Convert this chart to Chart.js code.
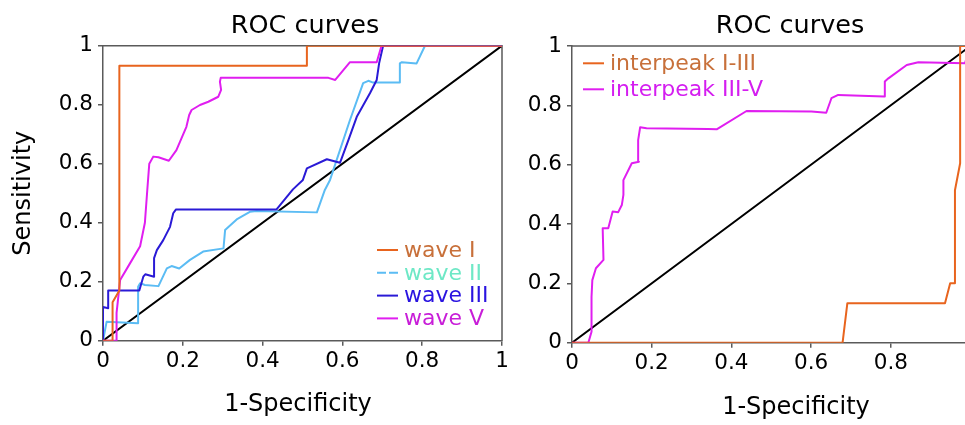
<!DOCTYPE html>
<html>
<head>
<meta charset="utf-8">
<title>ROC curves</title>
<script src="https://cdn.jsdelivr.net/npm/chart.js@4.4.1/dist/chart.umd.min.js"></script>
<style>
    html, body { margin: 0; padding: 0; background: #fff; overflow: hidden; }
    body { width: 965px; height: 425px; position: relative; }
    #leftChart { position: absolute; left: 0; top: 0; }
    #rightChart { position: absolute; left: 515px; top: 0; }
</style>
</head>
<body>
<canvas id="leftChart" width="530" height="425"></canvas>
<canvas id="rightChart" width="530" height="425"></canvas>
<script>
// ---- data ----
const tickValues = [0, 0.2, 0.4, 0.6, 0.8, 1];
const tickLabels = ["0", "0.2", "0.4", "0.6", "0.8", "1"];

const diagX = [0, 1];
const diagY = [0, 1];

// left panel
const waveIX = [0, 0.024, 0.024, 0.041, 0.041, 0.511, 0.511, 1];
const waveIY = [0, 0, 0.13, 0.17, 0.932, 0.932, 1, 1];

const waveIIX = [0, 0.009, 0.088, 0.088, 0.093, 0.105, 0.139, 0.16, 0.172, 0.191, 0.218, 0.251, 0.302, 0.306, 0.335, 0.368, 0.385, 0.536, 0.556, 0.569, 0.619, 0.652, 0.665, 0.677, 0.744, 0.744, 0.749, 0.786, 0.807, 1];
const waveIIY = [0, 0.064, 0.059, 0.183, 0.195, 0.189, 0.185, 0.245, 0.253, 0.245, 0.274, 0.302, 0.313, 0.375, 0.411, 0.437, 0.44, 0.435, 0.511, 0.545, 0.748, 0.873, 0.881, 0.875, 0.875, 0.94, 0.944, 0.94, 1, 1];

const waveIIIX = [0, 0, 0.013, 0.013, 0.091, 0.101, 0.106, 0.128, 0.128, 0.135, 0.151, 0.168, 0.176, 0.183, 0.435, 0.476, 0.501, 0.511, 0.561, 0.594, 0.615, 0.636, 0.669, 0.686, 0.692, 0.702, 1];
const waveIIIY = [0, 0.114, 0.11, 0.17, 0.17, 0.217, 0.225, 0.217, 0.28, 0.307, 0.341, 0.386, 0.432, 0.445, 0.445, 0.513, 0.545, 0.584, 0.615, 0.603, 0.68, 0.759, 0.839, 0.884, 0.94, 1, 1];

const waveVX = [0, 0.034, 0.034, 0.043, 0.068, 0.093, 0.105, 0.111, 0.116, 0.126, 0.139, 0.165, 0.184, 0.209, 0.216, 0.222, 0.243, 0.264, 0.289, 0.296, 0.293, 0.295, 0.565, 0.582, 0.619, 0.686, 0.698, 1];
const waveVY = [0, 0, 0.094, 0.206, 0.263, 0.32, 0.4, 0.511, 0.6, 0.624, 0.622, 0.61, 0.646, 0.725, 0.765, 0.782, 0.799, 0.81, 0.827, 0.85, 0.878, 0.891, 0.891, 0.884, 0.944, 0.944, 1, 1];

// right panel
const ipI_IIIX = [0, 0.679, 0.691, 0.936, 0.949, 0.961, 0.961, 0.974, 0.974, 1];
const ipI_IIIY = [0, 0, 0.133, 0.133, 0.2, 0.2, 0.514, 0.605, 1, 1];

const ipIII_VX = [0, 0.041, 0.049, 0.049, 0.051, 0.06, 0.079, 0.077, 0.091, 0.102, 0.116, 0.125, 0.129, 0.129, 0.15, 0.168, 0.166, 0.171, 0.187, 0.342, 0.363, 0.438, 0.601, 0.638, 0.651, 0.668, 0.783, 0.785, 0.794, 0.84, 0.869, 0.986, 1];
const ipIII_VY = [0, 0, 0.037, 0.155, 0.211, 0.251, 0.279, 0.386, 0.386, 0.442, 0.44, 0.464, 0.498, 0.548, 0.605, 0.61, 0.683, 0.726, 0.723, 0.72, 0.719, 0.781, 0.779, 0.775, 0.824, 0.835, 0.83, 0.88, 0.891, 0.936, 0.945, 0.942, 1];

const leftNames = ["wave I", "wave II", "wave III", "wave V"];
const rightNames = ["interpeak I-III", "interpeak III-V"];

const FONT = "'DejaVu Sans'";
const AXIS = "#5a5a5a";
const ORANGE = "#e8641e";
const LIGHTBLUE = "#5bbcf4";
const BLUE = "#2a1ad6";
const MAGENTA = "#e01ef0";

function toPoints(xs, ys) {
    return xs.map((x, i) => ({ x: x, y: ys[i] }));
}

function curve(label, xs, ys, color) {
    return {
        label: label,
        data: toPoints(xs, ys),
        borderColor: color,
        backgroundColor: color,
        borderWidth: 2,
        borderJoinStyle: 'round',
        borderCapStyle: 'round',
        showLine: true,
        pointRadius: 0,
        tension: 0
    };
}

// title and x label, drawn where the picture has them
const panelText = {
    id: 'panelText',
    afterDraw(chart, args, opts) {
        const ctx = chart.ctx;
        ctx.save();
        ctx.fillStyle = '#000';
        ctx.textAlign = 'center';
        ctx.textBaseline = 'alphabetic';
        ctx.font = `25.5px ${FONT}`;
        ctx.fillText(opts.title, opts.titleX, opts.titleY);
        ctx.font = `24px ${FONT}`;
        ctx.fillText(opts.xLabel, opts.xLabelX, opts.xLabelY);
        ctx.restore();
    }
};

// top and right edge of the box
const frame = {
    id: 'frame',
    beforeDatasetsDraw(chart) {
        const { ctx, chartArea: a } = chart;
        ctx.save();
        ctx.strokeStyle = AXIS;
        ctx.lineWidth = 1.5;
        ctx.beginPath();
        ctx.moveTo(a.left, a.top);
        ctx.lineTo(a.right, a.top);
        ctx.lineTo(a.right, a.bottom);
        ctx.stroke();
        ctx.restore();
    }
};

const lineLegend = {
    id: 'lineLegend',
    afterDraw(chart, args, opts) {
        const ctx = chart.ctx;
        ctx.save();
        ctx.font = `22px ${FONT}`;
        ctx.textBaseline = 'middle';
        ctx.textAlign = 'left';
        opts.items.forEach((it, i) => {
            const y = opts.y + i * opts.rowHeight;
            ctx.strokeStyle = it.lineColor;
            ctx.lineWidth = 2;
            ctx.setLineDash(it.dash || []);
            ctx.beginPath();
            ctx.moveTo(opts.x, y);
            ctx.lineTo(opts.x + 21, y);
            ctx.stroke();
            ctx.setLineDash([]);
            ctx.fillStyle = it.textColor;
            ctx.fillText(it.text, opts.x + 27, y + 1);
        });
        ctx.restore();
    }
};

function scales(yWidth, xHeight, yTitle) {
    const tickFont = { family: FONT, size: 21.5 };
    return {
        x: {
            type: 'linear', min: 0, max: 1,
            afterBuildTicks: s => { s.ticks = tickValues.map(v => ({ value: v })); },
            afterFit: s => { s.height = xHeight; },
            ticks: { color: '#000', font: tickFont, padding: 3, maxRotation: 0, callback: (v, i) => tickLabels[i] },
            grid: { drawOnChartArea: false, tickLength: 5, color: AXIS, lineWidth: 1.5 },
            border: { color: AXIS, width: 1.5 }
        },
        y: {
            type: 'linear', min: 0, max: 1,
            afterBuildTicks: s => { s.ticks = tickValues.map(v => ({ value: v })); },
            afterFit: s => { s.width = yWidth; },
            ticks: { color: '#000', font: tickFont, padding: 5, callback: (v, i) => tickLabels[i] },
            grid: { drawOnChartArea: false, tickLength: 5, color: AXIS, lineWidth: 1.5 },
            border: { color: AXIS, width: 1.5 },
            title: {
                display: !!yTitle, text: yTitle || '', color: '#000',
                font: { family: FONT, size: 24 }, padding: { top: 9, bottom: 0 }
            }
        }
    };
}

function drawLeft() {
    const ctx = document.getElementById('leftChart').getContext('2d');
    new Chart(ctx, {
        type: 'scatter',
        data: {
            datasets: [
                curve(leftNames[0], waveIX, waveIY, ORANGE),
                curve(leftNames[3], waveVX, waveVY, MAGENTA),
                curve(leftNames[2], waveIIIX, waveIIIY, BLUE),
                curve(leftNames[1], waveIIX, waveIIY, LIGHTBLUE),
                curve('chance', diagX, diagY, '#000')
            ]
        },
        options: {
            responsive: false,
            animation: false,
            layout: { padding: { top: 45.7, right: 28, left: 0, bottom: 0 } },
            scales: scales(103, 84.3, 'Sensitivity'),
            plugins: {
                legend: { display: false },
                tooltip: { enabled: false },
                panelText: { title: 'ROC curves', titleX: 305, titleY: 32.5, xLabel: '1-Specificity', xLabelX: 298, xLabelY: 410.5 },
                lineLegend: {
                    x: 377, y: 250, rowHeight: 22.8,
                    items: [
                        { text: leftNames[0], lineColor: ORANGE, textColor: '#c8703a' },
                        { text: leftNames[1], lineColor: LIGHTBLUE, textColor: '#6ee8c6', dash: [9, 3] },
                        { text: leftNames[2], lineColor: BLUE, textColor: '#2a14e0' },
                        { text: leftNames[3], lineColor: MAGENTA, textColor: '#c81ed8' }
                    ]
                }
            }
        },
        plugins: [frame, panelText, lineLegend]
    });
}

function drawRight() {
    const ctx = document.getElementById('rightChart').getContext('2d');
    new Chart(ctx, {
        type: 'scatter',
        data: {
            datasets: [
                curve(rightNames[0], ipI_IIIX, ipI_IIIY, ORANGE),
                curve(rightNames[1], ipIII_VX, ipIII_VY, MAGENTA),
                curve('chance', diagX, diagY, '#000')
            ]
        },
        options: {
            responsive: false,
            animation: false,
            layout: { padding: { top: 46, right: 74.5, left: 0, bottom: 0 } },
            scales: scales(57, 82.3, null),
            plugins: {
                legend: { display: false },
                tooltip: { enabled: false },
                panelText: { title: 'ROC curves', titleX: 275, titleY: 32.7, xLabel: '1-Specificity', xLabelX: 281, xLabelY: 413.5 },
                lineLegend: {
                    x: 68, y: 63.3, rowHeight: 26,
                    items: [
                        { text: rightNames[0], lineColor: ORANGE, textColor: '#c8703a' },
                        { text: rightNames[1], lineColor: MAGENTA, textColor: '#d41ef0' }
                    ]
                }
            }
        },
        plugins: [frame, panelText, lineLegend]
    });
}

drawLeft();
drawRight();
</script>
</body>
</html>
